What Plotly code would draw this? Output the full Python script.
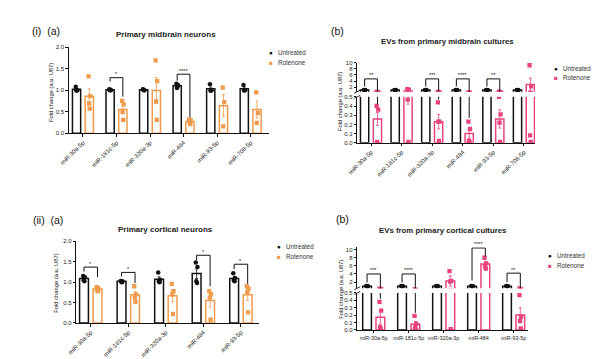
import plotly.graph_objects as go

W, H = 601, 359
ORANGE = "#F09A4C"
PINK = "#E8437E"
BLACK = "#111111"
FONT = "Liberation Sans, Arial, sans-serif"

# ---------------- data ----------------
# (i)(a) Primary midbrain neurons
mb_cats = ["miR-30a-5p", "miR-181c-5p", "miR-320a-3p", "miR-484", "miR-93-5p", "miR-708-5p"]
mb_untr_mean = [1.02, 1.01, 1.01, 1.10, 1.03, 1.03]
mb_untr_sem = [0.02, 0.01, 0.01, 0.02, 0.04, 0.04]
mb_untr_pts = [[1.08, 1.00, 0.99, 1.00], [1.02, 1.00, 1.00, 1.01], [1.02, 1.00, 1.01, 1.00],
               [1.15, 1.12, 1.05, 1.08], [1.14, 1.00, 0.99, 0.99], [1.12, 1.00, 0.99]]
mb_rot_mean = [0.86, 0.55, 0.99, 0.27, 0.64, 0.55]
mb_rot_sem = [0.17, 0.10, 0.30, 0.03, 0.26, 0.20]
mb_rot_pts = [[1.32, 0.86, 0.69, 0.57], [0.75, 0.67, 0.49, 0.31], [1.69, 1.21, 0.74, 0.31],
              [0.32, 0.30, 0.25, 0.21], [1.06, 0.72, 0.16], [0.95, 0.47, 0.24]]
mb_sig = [(1, 1.29, 1.20, 0.85, "*"), (3, 1.37, 1.22, 0.37, "****")]

# (i)(b) EVs from primary midbrain cultures
evmb_untr_mean = [1.00, 1.00, 1.00, 1.00, 1.00, 1.00]
evmb_untr_sem = [0.02, 0.02, 0.02, 0.02, 0.02, 0.02]
evmb_untr_pts = [[1.05, 1.00, 0.98, 0.97], [1.04, 1.00, 0.98, 0.98], [1.05, 1.00, 0.97, 0.98],
                 [1.06, 1.00, 0.96, 0.98], [1.04, 1.00, 0.98, 0.98], [1.03, 1.00, 0.98, 0.99]]
evmb_rot_mean = [0.26, 0.72, 0.23, 0.10, 0.26, 2.87]
evmb_rot_sem = [0.07, 0.30, 0.08, 0.05, 0.10, 2.10]
evmb_rot_pts = [[0.40, 0.36, 0.01], [1.30, 1.12, 0.47, 0.01], [0.44, 0.23, 0.23, 0.02],
                [0.23, 0.15, 0.02, 0.01], [0.50, 0.31, 0.22, 0.01], [9.2, 2.2, 0.08, 0.01]]
evmb_sig = [(0, 4.7, 2.2, 0.42, "**"), (2, 4.7, 2.2, 0.47, "***"),
            (3, 4.7, 2.2, 0.27, "****"), (4, 4.7, 2.2, 0.53, "**")]

# (ii)(a) Primary cortical neurons
cx_cats = ["miR-30a-5p", "miR-181c-5p", "miR-320a-3p", "miR-484", "miR-93-5p"]
cx_untr_mean = [1.09, 1.02, 1.07, 1.21, 1.09]
cx_untr_sem = [0.03, 0.01, 0.06, 0.12, 0.04]
cx_untr_pts = [[1.15, 1.12, 1.05, 1.02], [1.03, 1.02, 1.01, 1.00], [1.24, 1.06, 1.02, 1.00],
               [1.48, 1.37, 1.02, 0.98], [1.22, 1.10, 1.04, 1.02]]
cx_rot_mean = [0.83, 0.69, 0.67, 0.55, 0.69]
cx_rot_sem = [0.03, 0.08, 0.15, 0.16, 0.14]
cx_rot_pts = [[0.88, 0.85, 0.80, 0.78], [0.90, 0.70, 0.62, 0.52], [0.96, 0.78, 0.70, 0.22],
              [0.78, 0.70, 0.62, 0.08], [0.90, 0.84, 0.76, 0.26]]
cx_sig = [(0, 1.37, 1.26, 1.12, "*"), (1, 1.24, 1.14, 0.98, "*"),
          (3, 1.66, 1.54, 0.90, "*"), (4, 1.44, 1.32, 0.96, "*")]

# (ii)(b) EVs from primary cortical cultures
evcx_untr_mean = [1.00, 1.00, 1.00, 1.00, 1.00]
evcx_untr_sem = [0.02, 0.02, 0.02, 0.02, 0.02]
evcx_untr_pts = [[1.05, 1.00, 0.98, 0.97], [1.04, 1.00, 0.98, 0.98], [1.05, 1.00, 0.97, 0.98],
                 [1.06, 1.00, 0.96, 0.98], [1.04, 1.00, 0.98, 0.98]]
evcx_rot_mean = [0.17, 0.075, 2.28, 6.45, 0.20]
evcx_rot_sem = [0.09, 0.04, 1.27, 0.60, 0.10]
evcx_rot_pts = [[0.38, 0.26, 0.04, 0.01], [0.19, 0.08, 0.03, 0.01], [4.7, 2.3, 2.1, 0.01],
                [8.0, 6.6, 5.9, 5.3], [0.47, 0.18, 0.12, 0.02]]
evcx_sig = [(0, 4.0, 1.9, 0.42, "***"), (1, 4.0, 1.9, 0.23, "****"),
            (3, 10.4, 2.4, 8.3, "****"), (4, 4.2, 2.0, 0.52, "**")]

JITTER = [-0.06, 0.06, -0.02, 0.03]

fig = go.Figure()


def px(x):
    return x / W


def py(y):
    return 1 - y / H


def add_group(xa, ya, n, untr_mean, untr_sem, untr_pts, rot_mean, rot_sem, rot_pts, color,
              off, bw, sig):
    cx = list(range(n))
    xs_u = [c - off for c in cx]
    xs_r = [c + off for c in cx]
    fig.add_trace(go.Bar(x=xs_u, y=untr_mean, width=bw, xaxis=xa, yaxis=ya,
                         marker=dict(color="white", line=dict(color=BLACK, width=1.5)),
                         error_y=dict(type="data", array=untr_sem, color=BLACK, thickness=0.8, width=1.5),
                         showlegend=False))
    fig.add_trace(go.Bar(x=xs_r, y=rot_mean, width=bw, xaxis=xa, yaxis=ya,
                         marker=dict(color="white", line=dict(color=color, width=1.5)),
                         error_y=dict(type="data", array=rot_sem, color=color, thickness=0.8, width=1.5),
                         showlegend=False))
    dx, dy = [], []
    for i, pts in enumerate(untr_pts):
        for j, v in enumerate(pts):
            dx.append(xs_u[i] + JITTER[j % 4] * bw * 1.6)
            dy.append(v)
    fig.add_trace(go.Scatter(x=dx, y=dy, xaxis=xa, yaxis=ya, mode="markers",
                             marker=dict(symbol="circle", size=4.5, color=BLACK), showlegend=False))
    dx, dy = [], []
    for i, pts in enumerate(rot_pts):
        for j, v in enumerate(pts):
            dx.append(xs_r[i] + JITTER[j % 4] * bw * 1.6)
            dy.append(v)
    fig.add_trace(go.Scatter(x=dx, y=dy, xaxis=xa, yaxis=ya, mode="markers",
                             marker=dict(symbol="square", size=4.3, color=color), showlegend=False))
    for (g, top, le, re, lab) in sig:
        fig.add_trace(go.Scatter(x=[g - off, g - off, g + off, g + off], y=[le, top, top, re],
                                 xaxis=xa, yaxis=ya, mode="lines",
                                 line=dict(color=BLACK, width=1), showlegend=False))


def sig_labels(xa, ya, sig):
    for (g, top, le, re, lab) in sig:
        fig.add_annotation(x=g, y=top, xref=xa, yref=ya, text=lab, showarrow=False,
                           yanchor="bottom", yshift=-1.5, font=dict(size=5.5, color=BLACK, family=FONT))


# (i)(a)
add_group("x", "y", 6, mb_untr_mean, mb_untr_sem, mb_untr_pts, mb_rot_mean, mb_rot_sem, mb_rot_pts,
          ORANGE, 0.19, 0.245, mb_sig)
sig_labels("x", "y", mb_sig)
# (i)(b) lower + upper
for ya in ["y2", "y3"]:
    add_group("x2", ya, 6, evmb_untr_mean, evmb_untr_sem, evmb_untr_pts, evmb_rot_mean, evmb_rot_sem,
              evmb_rot_pts, PINK, 0.21, 0.27, evmb_sig)
sig_labels("x2", "y3", evmb_sig)
# (ii)(a)
add_group("x3", "y4", 5, cx_untr_mean, cx_untr_sem, cx_untr_pts, cx_rot_mean, cx_rot_sem, cx_rot_pts,
          ORANGE, 0.18, 0.235, cx_sig)
sig_labels("x3", "y4", cx_sig)
# (ii)(b)
for ya in ["y5", "y6"]:
    add_group("x4", ya, 5, evcx_untr_mean, evcx_untr_sem, evcx_untr_pts, evcx_rot_mean, evcx_rot_sem,
              evcx_rot_pts, PINK, 0.19, 0.25, evcx_sig)
sig_labels("x4", "y6", evcx_sig)

tickfont = dict(size=6, color="#222222", family=FONT)
axcommon = dict(showline=True, linecolor=BLACK, linewidth=1.1, ticks="outside", ticklen=2.5,
                tickwidth=0.9, tickcolor=BLACK, showgrid=False, zeroline=False,
                fixedrange=True)

fig.update_layout(
    width=W, height=H, autosize=False, margin=dict(l=0, r=0, t=0, b=0),
    paper_bgcolor="white", plot_bgcolor="white", barmode="overlay", showlegend=False,
    # (i)(a)
    xaxis=dict(domain=[px(51.7), px(255)], range=[-0.42, 5.54], anchor="y", tickfont=tickfont,
               tickmode="array", tickvals=list(range(6)), ticktext=mb_cats, tickangle=-45, **axcommon),
    yaxis=dict(domain=[py(124.3), py(36.7)], range=[0, 2.0], anchor="x", dtick=0.5, tickfont=tickfont,
               tickformat=".1f", **axcommon),
    # (i)(b)
    xaxis2=dict(domain=[px(345), px(526)], range=[-0.45, 5.37], anchor="y2", tickfont=tickfont,
                tickmode="array", tickvals=list(range(6)), ticktext=mb_cats, tickangle=-45, **axcommon),
    yaxis2=dict(domain=[py(134), py(87.3)], range=[0, 0.5], anchor="x2", dtick=0.1, tickfont=tickfont,
                tickformat=".1f", **axcommon),
    yaxis3=dict(domain=[py(82), py(52.7)], range=[0.5, 10], anchor="x2", tick0=0, dtick=2,
                tickfont=tickfont, tickformat="d", **axcommon),
    # (ii)(a)
    xaxis3=dict(domain=[px(59.3), px(245)], range=[-0.385, 4.48], anchor="y4", tickfont=tickfont,
                tickmode="array", tickvals=list(range(5)), ticktext=cx_cats, tickangle=-45, **axcommon),
    yaxis4=dict(domain=[py(317.3), py(234.3)], range=[0, 2.0], anchor="x3", dtick=0.5, tickfont=tickfont,
                tickformat=".1f", **axcommon),
    # (ii)(b)
    xaxis4=dict(domain=[px(345), px(519)], range=[-0.47, 4.42], anchor="y5",
                tickfont=dict(size=5.4, color="#222222", family=FONT),
                tickmode="array", tickvals=list(range(5)), ticktext=cx_cats, tickangle=0, **axcommon),
    yaxis5=dict(domain=[py(324.3), py(286.7)], range=[0, 0.5], anchor="x4", dtick=0.1, tickfont=tickfont,
                tickformat=".1f", **axcommon),
    yaxis6=dict(domain=[py(281.9), py(240.2)], range=[0.5, 10.6], anchor="x4", tick0=0, dtick=2,
                tickvals=[2, 4, 6, 8, 10], tickformat="d", tickfont=tickfont, **axcommon),
)

# axis break marks
for (xp, ylow_top, yup_bot) in [(345, 87.3, 82), (345, 286.7, 281.9)]:
    for yy in (ylow_top, yup_bot):
        fig.add_shape(type="line", xref="paper", yref="paper",
                      x0=px(xp - 3), y0=py(yy + 1.5), x1=px(xp + 3), y1=py(yy - 1.5),
                      line=dict(color=BLACK, width=0.9))


def text(x, y, s, size, bold=False, angle=0, xanchor="center", color=BLACK):
    fig.add_annotation(x=px(x), y=py(y), xref="paper", yref="paper", showarrow=False,
                       text=f"<b>{s}</b>" if bold else s, textangle=angle, xanchor=xanchor,
                       yanchor="middle", font=dict(size=size, color=color, family=FONT))


# panel labels
text(12, 20, "(i)\u00a0\u00a0(a)", 10.5, xanchor="left")
text(316, 20, "(b)", 10.5, xanchor="left")
text(13, 213, "(ii)\u00a0\u00a0(a)", 10.5, xanchor="left")
text(321, 212, "(b)", 10.5, xanchor="left")

# titles
text(151, 24, "Primary midbrain neurons", 8, bold=True, color="#222222")
text(437, 31, "EVs from primary midbrain cultures", 7.8, bold=True, color="#222222")
text(150, 222, "Primary cortical neurons", 8, bold=True, color="#222222")
text(432, 223, "EVs from primary cortical cultures", 7.8, bold=True, color="#222222")

# y titles
text(33, 83, "Fold change (a.u. U87)", 5.8, angle=-90)
text(328, 92, "Fold change (a.u. U87)", 5.8, angle=-90)
text(39, 277, "Fold change (a.u. U87)", 5.8, angle=-90)
text(329, 283, "Fold change (a.u. U87)", 5.8, angle=-90)


# legends
def legend(x, y, color):
    text(x, y, f"<span style='color:{BLACK}'>\u25CF</span>\u00a0\u00a0\u00a0Untreated", 6.3, xanchor="left",
         color="#333333")
    text(x, y + 10, f"<span style='color:{color}'>\u25A0</span>\u00a0\u00a0\u00a0Rotenone", 6.3, xanchor="left",
         color="#333333")


legend(253, 42, ORANGE)
legend(543, 58, PINK)
legend(261, 240, ORANGE)
legend(537, 249, PINK)

fig.write_html("out.html")
